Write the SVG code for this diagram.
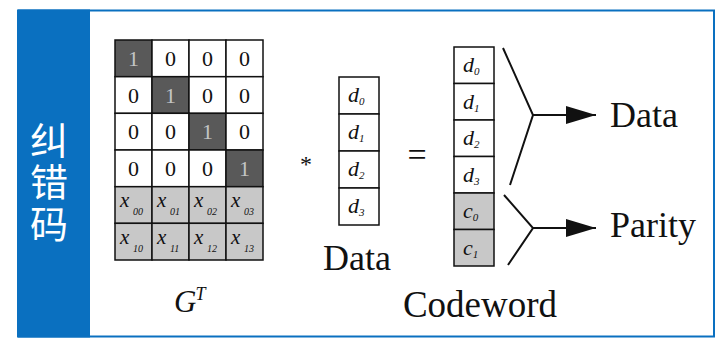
<svg xmlns="http://www.w3.org/2000/svg" width="718" height="340" viewBox="0 0 718 340">
<style>
.t{font-family:'Liberation Serif','DejaVu Serif',serif;fill:#111}
.it{font-style:italic}
.c{fill:#fff;stroke:#111;stroke-width:1.5}
.g{fill:#c8c8c8;stroke:#111;stroke-width:1.5}
.k{fill:#595959;stroke:#111;stroke-width:1.5}
.num{font-size:22px;text-anchor:middle}
.one{fill:#c4c4c4}
.xs{font-size:21px}
.sub{font-size:10px}
.ln{fill:none;stroke:#111;stroke-width:2}
.cjk{font-family:'Noto Sans CJK SC',sans-serif;font-size:38px;fill:#fff}
</style>
<defs>
<marker id="ah" viewBox="0 0 30 20" refX="30" refY="10" markerWidth="30" markerHeight="20" markerUnits="userSpaceOnUse" orient="auto">
<path d="M0,1 L30,10 L0,19 Z" fill="#111"/>
</marker>
</defs>
<rect x="0" y="0" width="718" height="340" fill="#fff"/>
<g id="frame">
<rect x="18" y="10.5" width="696" height="326" fill="#fff" stroke="#0a70c0" stroke-width="2"/>
<rect x="18" y="9.5" width="72" height="328" fill="#0a70c0"/>
<text class="cjk" x="49" y="121" writing-mode="tb" letter-spacing="4">纠错码</text>
</g>
<g id="matrix" font-family="Liberation Serif, serif">
<rect x="115" y="40" width="37" height="36.7" class="k"/><rect x="152" y="40" width="37" height="36.7" class="c"/><rect x="189" y="40" width="37" height="36.7" class="c"/><rect x="226" y="40" width="37" height="36.7" class="c"/>
<rect x="115" y="76.7" width="37" height="36.7" class="c"/><rect x="152" y="76.7" width="37" height="36.7" class="k"/><rect x="189" y="76.7" width="37" height="36.7" class="c"/><rect x="226" y="76.7" width="37" height="36.7" class="c"/>
<rect x="115" y="113.3" width="37" height="36.7" class="c"/><rect x="152" y="113.3" width="37" height="36.7" class="c"/><rect x="189" y="113.3" width="37" height="36.7" class="k"/><rect x="226" y="113.3" width="37" height="36.7" class="c"/>
<rect x="115" y="150" width="37" height="36.7" class="c"/><rect x="152" y="150" width="37" height="36.7" class="c"/><rect x="189" y="150" width="37" height="36.7" class="c"/><rect x="226" y="150" width="37" height="36.7" class="k"/>
<rect x="115" y="186.7" width="37" height="36.7" class="g"/><rect x="152" y="186.7" width="37" height="36.7" class="g"/><rect x="189" y="186.7" width="37" height="36.7" class="g"/><rect x="226" y="186.7" width="37" height="36.7" class="g"/>
<rect x="115" y="223.3" width="37" height="36.7" class="g"/><rect x="152" y="223.3" width="37" height="36.7" class="g"/><rect x="189" y="223.3" width="37" height="36.7" class="g"/><rect x="226" y="223.3" width="37" height="36.7" class="g"/>
<text class="t num one" x="133.5" y="66">1</text><text class="t num" x="170.5" y="66">0</text><text class="t num" x="207.5" y="66">0</text><text class="t num" x="244.5" y="66">0</text>
<text class="t num" x="133.5" y="102.7">0</text><text class="t num one" x="170.5" y="102.7">1</text><text class="t num" x="207.5" y="102.7">0</text><text class="t num" x="244.5" y="102.7">0</text>
<text class="t num" x="133.5" y="139.3">0</text><text class="t num" x="170.5" y="139.3">0</text><text class="t num one" x="207.5" y="139.3">1</text><text class="t num" x="244.5" y="139.3">0</text>
<text class="t num" x="133.5" y="176">0</text><text class="t num" x="170.5" y="176">0</text><text class="t num" x="207.5" y="176">0</text><text class="t num one" x="244.5" y="176">1</text>
<text class="t it xs" x="120" y="207">x</text><text class="t it sub" x="133" y="215">00</text>
<text class="t it xs" x="157" y="207">x</text><text class="t it sub" x="170" y="215">01</text>
<text class="t it xs" x="194" y="207">x</text><text class="t it sub" x="207" y="215">02</text>
<text class="t it xs" x="231" y="207">x</text><text class="t it sub" x="244" y="215">03</text>
<text class="t it xs" x="120" y="243.6">x</text><text class="t it sub" x="133" y="252">10</text>
<text class="t it xs" x="157" y="243.6">x</text><text class="t it sub" x="170" y="252">11</text>
<text class="t it xs" x="194" y="243.6">x</text><text class="t it sub" x="207" y="252">12</text>
<text class="t it xs" x="231" y="243.6">x</text><text class="t it sub" x="244" y="252">13</text>
<text class="t" x="174" y="312" font-size="31"><tspan class="it">G</tspan><tspan class="it" font-size="18" dy="-12" dx="-1">T</tspan></text>
</g>
<g id="ops" font-family="Liberation Serif, serif">
<text class="t" x="306" y="172" font-size="24" text-anchor="middle">*</text>
<text class="t" x="417" y="166" font-size="34" text-anchor="middle">=</text>
</g>
<g id="data" font-family="Liberation Serif, serif">
<rect x="339" y="77" width="40" height="37" class="c"/>
<rect x="339" y="114" width="40" height="37" class="c"/>
<rect x="339" y="151" width="40" height="37" class="c"/>
<rect x="339" y="188" width="40" height="37" class="c"/>
<text class="t it" x="348" y="102" font-size="22">d<tspan font-size="11" dy="3">0</tspan></text>
<text class="t it" x="348" y="139" font-size="22">d<tspan font-size="11" dy="3">1</tspan></text>
<text class="t it" x="348" y="176" font-size="22">d<tspan font-size="11" dy="3">2</tspan></text>
<text class="t it" x="348" y="213" font-size="22">d<tspan font-size="11" dy="3">3</tspan></text>
<text class="t" x="357" y="270" font-size="36" text-anchor="middle">Data</text>
</g>
<g id="codeword" font-family="Liberation Serif, serif">
<rect x="454" y="47" width="40" height="36.5" class="c"/>
<rect x="454" y="83.5" width="40" height="36.5" class="c"/>
<rect x="454" y="120" width="40" height="36.5" class="c"/>
<rect x="454" y="156.5" width="40" height="36.5" class="c"/>
<rect x="454" y="193" width="40" height="36.5" class="g"/>
<rect x="454" y="229.5" width="40" height="36.5" class="g"/>
<text class="t it" x="463" y="72" font-size="22">d<tspan font-size="11" dy="3">0</tspan></text>
<text class="t it" x="463" y="108.5" font-size="22">d<tspan font-size="11" dy="3">1</tspan></text>
<text class="t it" x="463" y="145" font-size="22">d<tspan font-size="11" dy="3">2</tspan></text>
<text class="t it" x="463" y="181.5" font-size="22">d<tspan font-size="11" dy="3">3</tspan></text>
<text class="t it" x="463" y="218" font-size="22" fill="#333">c<tspan font-size="11" dy="3">0</tspan></text>
<text class="t it" x="463" y="254.5" font-size="22" fill="#333">c<tspan font-size="11" dy="3">1</tspan></text>
<text class="t" x="480" y="317" font-size="37" text-anchor="middle">Codeword</text>
</g>
<g id="connectors">
<polyline class="ln" points="503,48 533,115 510,185"/>
<line class="ln" x1="533" y1="115" x2="596" y2="115" marker-end="url(#ah)"/>
<polyline class="ln" points="504,195 533,228 508,265"/>
<line class="ln" x1="533" y1="228" x2="596" y2="228" marker-end="url(#ah)"/>
</g>
<g id="out-data" font-family="Liberation Serif, serif"><text class="t" x="610" y="127" font-size="36">Data</text></g>
<g id="out-parity" font-family="Liberation Serif, serif"><text class="t" x="610" y="237" font-size="36">Parity</text></g>
</svg>
